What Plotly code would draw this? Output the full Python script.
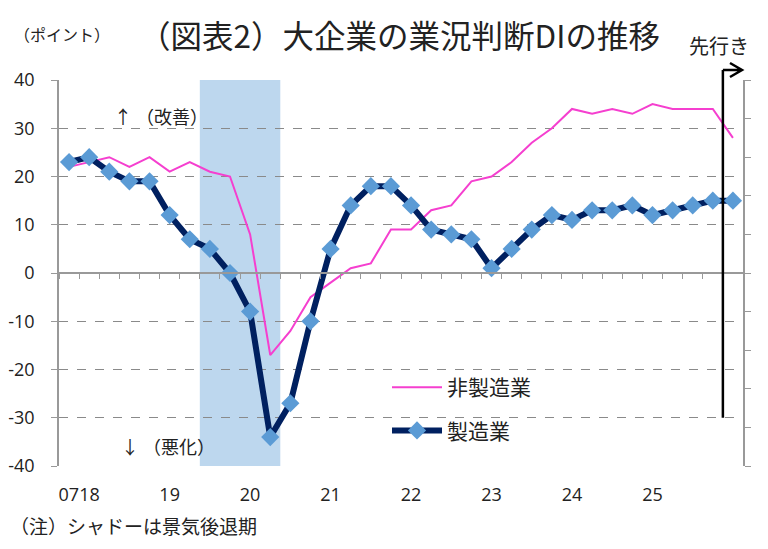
import plotly.graph_objects as go

# quarterly index (0 = first quarter on the chart, last one is the forecast)
quarters = list(range(34))
manufacturing = [23, 24, 21, 19, 19, 12, 7, 5, 0, -8,
                 -34, -27, -10, 5, 14, 18, 18, 14, 9, 8,
                 7, 1, 5, 9, 12, 11, 13, 13, 14, 12,
                 13, 14, 15, 15]
non_manufacturing = [22, 23, 24, 22, 24, 21, 23, 21, 20, 8,
                     -17, -12, -5, -2, 1, 2, 9, 9, 13, 14,
                     19, 20, 23, 27, 30, 34, 33, 34, 33, 35,
                     34, 34, 34, 28]
year_pos = [0.5, 5, 9, 13, 17, 21, 25, 29]
year_labels = ['0718', '19', '20', '21', '22', '23', '24', '25']
y_ticks = [-40, -30, -20, -10, 0, 10, 20, 30, 40]
recession = (6.5, 10.5)   # shaded quarters
forecast_start = 32.5

# the page puts the figure 8px in from the top-left corner,
# so the figure is a bit smaller and the margins account for it
W, H = 760, 541
L, R, T, B = 51, 25, 72, 83
PW, PH = W - L - R, H - T - B
JP = 'Noto Sans CJK JP'
NUM = 'Open Sans'


# helpers: screen pixel -> paper coords
def px_x(px):
    return (px - 8 - L) / PW


def px_y(py):
    return (H - B - (py - 8)) / PH


fig = go.Figure()

fig.add_trace(go.Scatter(x=quarters, y=non_manufacturing, mode='lines', name='非製造業',
                         line=dict(color='#F53FCF', width=2), legendgroup='a'))
fig.add_trace(go.Scatter(x=quarters, y=manufacturing, mode='lines+markers', name='製造業',
                         line=dict(color='#002060', width=6),
                         marker=dict(symbol='diamond', size=14, color='#5B9BD5'),
                         legendgroup='b'))
# dummy trace so the extra axes get drawn
fig.add_trace(go.Scatter(x=[None], y=[None], xaxis='x2', yaxis='y2', showlegend=False, hoverinfo='skip'))

# recession shade
fig.add_shape(type='rect', xref='x', yref='paper', x0=recession[0], x1=recession[1], y0=0, y1=1,
              fillcolor='#BDD7EE', line_width=0, layer='between')

# forecast marker: vertical line and arrow to the right
n = len(quarters)
fx = (forecast_start + 0.5) / n
fy_top = px_y(70)
fy_bot = (-30 + 40) / 80
fig.add_shape(type='line', xref='paper', yref='paper', x0=fx, x1=fx, y0=fy_bot, y1=fy_top,
              line=dict(color='black', width=2.5))
x_end = px_x(742)
dx = 12 / PW
dy = 7 / PH
fig.add_shape(type='path', xref='paper', yref='paper',
              path=f'M {fx},{fy_top} L {x_end},{fy_top} M {x_end - dx},{fy_top + dy} L {x_end},{fy_top} L {x_end - dx},{fy_top - dy}',
              line=dict(color='black', width=2.5))

notes = [
    ('（図表2）大企業の業況判断DIの推移', 399, 34, 31.5, 'center'),
    ('（ポイント）', 62, 34, 16, 'center'),
    ('先行き', 719, 46, 20, 'center'),
    ('↑ （改善）', 161, 116, 18, 'center'),
    ('↓ （悪化）', 168, 446, 18, 'center'),
    ('（注）シャドーは景気後退期', 8, 525, 19, 'left'),
]
for text, x, y, size, anchor in notes:
    fig.add_annotation(text=text, xref='paper', yref='paper', x=px_x(x), y=px_y(y),
                       xanchor=anchor, yanchor='middle', showarrow=False,
                       font=dict(family=JP, size=size, color='#222'))

fig.update_layout(
    width=W, height=H,
    margin=dict(l=L, r=R, t=T, b=B, autoexpand=False),
    paper_bgcolor='white', plot_bgcolor='white',
    showlegend=True,
    legend=dict(x=px_x(387), y=px_y(367), xanchor='left', yanchor='top',
                bgcolor='rgba(0,0,0,0)', tracegroupgap=13, itemwidth=50,
                font=dict(family=JP, size=21, color='#222')),
    xaxis=dict(range=[-0.5, n - 0.5], tickvals=year_pos, ticktext=year_labels,
               showgrid=False, zeroline=False, showline=False, ticks='', automargin=False,
               ticklabelstandoff=16, tickfont=dict(family=NUM, size=18, color='#222')),
    xaxis2=dict(overlaying='x', anchor='free', position=0.5, range=[-0.5, n - 0.5],
                tickvals=[q - 0.5 for q in quarters] + [n - 0.5],
                ticks='outside', ticklen=5, tickcolor='#999', tickwidth=1.2,
                showline=True, linecolor='#999', linewidth=1.5, automargin=False,
                showticklabels=False, showgrid=False, zeroline=False),
    yaxis=dict(range=[-40, 40], tickvals=y_ticks, ticktext=[str(v) for v in y_ticks],
               showgrid=True, gridcolor='#8a8a8a', griddash='dash',
               gridwidth=1, zeroline=False, showline=True, linecolor='#999', linewidth=1.5,
               ticks='outside', ticklen=6, tickcolor='#999', automargin=False,
               ticklabelstandoff=13, tickfont=dict(family=NUM, size=18, color='#222')),
    yaxis2=dict(overlaying='y', side='right', range=[0, 1], dtick=0.1,
                ticks='outside', ticklen=6, tickcolor='#999', automargin=False,
                showline=True, linecolor='#999', linewidth=1.5,
                showticklabels=False, showgrid=False, zeroline=False),
)

fig.write_html('out.html')
